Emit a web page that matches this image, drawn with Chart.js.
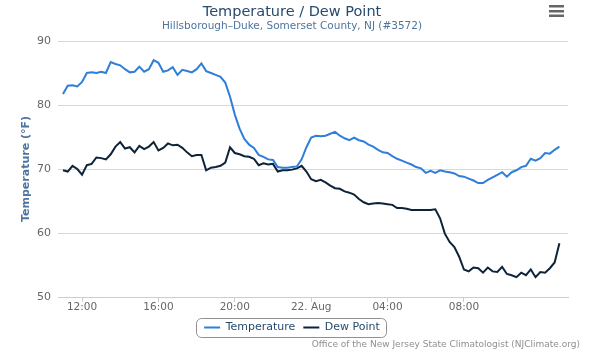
<!DOCTYPE html>
<html>
<head>
<meta charset="utf-8">
<script src="https://cdn.jsdelivr.net/npm/chart.js@4"></script>
<style>
  html, body { margin: 0; padding: 0; background: #fff; }
  #wrap { width: 600px; height: 361px; }
</style>
</head>
<body>
<div id="wrap"><canvas id="temp_canvas" width="600" height="361"></canvas></div>
<script>
// readings every 15 min, starting 21 Aug 11:00 (hours since 21 Aug 00:00)
const start_hour = 11;
const step_hours = 0.25;

const temp_f = [
  81.7, 83.0, 83.1, 82.9,
  83.6, 85.0, 85.1, 85.0,
  85.2, 85.0, 86.7, 86.4,
  86.2, 85.6, 85.1, 85.2,
  86.0, 85.2, 85.6, 87.0,
  86.6, 85.2, 85.4, 85.9,
  84.7, 85.5, 85.3, 85.1,
  85.6, 86.5, 85.3, 85.0,
  84.7, 84.4, 83.5, 81.3,
  78.5, 76.3, 74.7, 73.8,
  73.3, 72.2, 71.9, 71.5,
  71.4, 70.3, 70.2, 70.2,
  70.3, 70.4, 71.5, 73.4,
  74.9, 75.2, 75.1, 75.2,
  75.5, 75.8, 75.2, 74.8,
  74.5, 74.9, 74.5, 74.3,
  73.8, 73.5, 73.0, 72.6,
  72.5, 72.0, 71.6, 71.3,
  71.0, 70.7, 70.3, 70.1,
  69.4, 69.7, 69.4, 69.8,
  69.6, 69.5, 69.3, 68.9,
  68.8, 68.5, 68.2, 67.8,
  67.8, 68.3, 68.7, 69.1,
  69.5, 68.8, 69.5, 69.8,
  70.3, 70.5, 71.6, 71.3,
  71.7, 72.5, 72.4, 73.0,
  73.5
];

const dew_f = [
  69.8, 69.6, 70.5, 70.0,
  69.1, 70.6, 70.8, 71.8,
  71.7, 71.5, 72.3, 73.5,
  74.2, 73.2, 73.4, 72.6,
  73.6, 73.1, 73.5, 74.2,
  72.9, 73.3, 74.0, 73.7,
  73.8, 73.3, 72.6, 72.0,
  72.2, 72.2, 69.8, 70.2,
  70.3, 70.5, 71.0, 73.4,
  72.5, 72.3, 72.0, 71.9,
  71.6, 70.6, 70.9, 70.7,
  70.8, 69.6, 69.8, 69.8,
  69.9, 70.1, 70.5, 69.6,
  68.4, 68.1, 68.3, 67.9,
  67.4, 67.0, 66.9, 66.5,
  66.3, 66.0, 65.3, 64.8,
  64.5, 64.6, 64.7, 64.6,
  64.5, 64.4, 63.9, 63.9,
  63.8, 63.6, 63.6, 63.6,
  63.6, 63.6, 63.7, 62.3,
  59.9, 58.6, 57.8, 56.3,
  54.3, 54.0, 54.6, 54.5,
  53.8, 54.6, 54.0, 53.9,
  54.7, 53.6, 53.4, 53.1,
  53.8, 53.4, 54.3, 53.1,
  53.9, 53.8, 54.5, 55.4,
  58.4
];

const tick_hours = [12, 16, 20, 24, 28, 32];
const tick_labels = ['12:00', '16:00', '20:00', '22. Aug', '04:00', '08:00'];

function to_points(vals) {
  return vals.map((v, i) => ({ x: start_hour + i * step_hours, y: v }));
}

const font_name = '"DejaVu Sans", Verdana, sans-serif';
Chart.defaults.font.family = font_name;

// legend frame, credits and the menu icon
const extras = {
  id: 'extras',
  afterDraw(chart) {
    const ctx = chart.ctx;
    const boxes = chart.legend.legendHitBoxes;
    ctx.save();
    if (boxes && boxes.length) {
      let l = Infinity, r = -Infinity, t = Infinity, b = -Infinity;
      boxes.forEach(h => {
        l = Math.min(l, h.left); r = Math.max(r, h.left + h.width);
        t = Math.min(t, h.top); b = Math.max(b, h.top + h.height);
      });
      ctx.strokeStyle = '#909090';
      ctx.lineWidth = 1;
      ctx.beginPath();
      ctx.roundRect(Math.round(l - 8) + 0.5, Math.round(t - 4) + 0.5, Math.round(r - l + 14), Math.round(b - t + 8), 5);
      ctx.stroke();
    }
    ctx.fillStyle = '#909090';
    ctx.font = '9px ' + font_name;
    ctx.textAlign = 'right';
    ctx.textBaseline = 'middle';
    ctx.fillText('Office of the New Jersey State Climatologist (NJClimate.org)', 580, 345);
    ctx.fillStyle = '#666';
    [5, 10, 14.5].forEach(y => ctx.fillRect(549, y, 15, 2.5));
    ctx.restore();
  }
};

const temp_config = {
  type: 'line',
  data: {
    datasets: [
      {
        label: 'Temperature',
        data: to_points(temp_f),
        borderColor: '#2f7ed8',
        backgroundColor: '#2f7ed8',
        borderWidth: 2,
        pointRadius: 0,
        tension: 0
      },
      {
        label: 'Dew Point',
        data: to_points(dew_f),
        borderColor: '#0d233a',
        backgroundColor: '#0d233a',
        borderWidth: 2,
        pointRadius: 0,
        tension: 0
      }
    ]
  },
  options: {
    responsive: false,
    animation: false,
    layout: { padding: { left: 0, right: 16, top: 0, bottom: 18 } },
    plugins: {
      title: {
        display: true,
        text: 'Temperature / Dew Point',
        color: '#274b6d',
        font: { size: 14.5, weight: 'normal', lineHeight: 1.1 },
        padding: { top: 4, bottom: 0 }
      },
      subtitle: {
        display: true,
        text: 'Hillsborough\u2013Duke, Somerset County, NJ (#3572)',
        color: '#4d759e',
        font: { size: 10.5, lineHeight: 1.1 },
        padding: { top: 1, bottom: 8.5 }
      },
      legend: {
        position: 'bottom',
        labels: {
          color: '#274b6d',
          font: { size: 11 },
          usePointStyle: true,
          pointStyle: 'line',
          pointStyleWidth: 16,
          padding: 8
        }
      },
      tooltip: { enabled: false }
    },
    scales: {
      x: {
        type: 'linear',
        min: 10.74,
        max: 37.45,
        afterBuildTicks: s => { s.ticks = tick_hours.map(h => ({ value: h })); },
        afterFit: s => { s.paddingRight = 32; s.height = 17; },
        ticks: {
          color: '#666',
          font: { size: 10.5 },
          padding: -1,
          maxRotation: 0,
          callback: v => tick_labels[tick_hours.indexOf(v)]
        },
        grid: { drawOnChartArea: false, drawTicks: true, tickLength: 5, color: '#c0d0e0' },
        border: { color: '#c0d0e0' }
      },
      y: {
        min: 50,
        max: 90,
        afterFit: s => { s.width = 58; },
        ticks: { stepSize: 10, color: '#666', font: { size: 11 }, padding: 7 },
        grid: { color: '#d8d8d8', drawTicks: false },
        border: { display: false },
        title: {
          display: true,
          text: 'Temperature (\u00b0F)',
          color: '#4d759e',
          font: { size: 11, weight: 'bold' },
          padding: { top: 20, bottom: 0 }
        }
      }
    }
  },
  plugins: [extras]
};

const temp_canvas = document.getElementById('temp_canvas');
const temp_chart = new Chart(temp_canvas, temp_config);
</script>
</body>
</html>
